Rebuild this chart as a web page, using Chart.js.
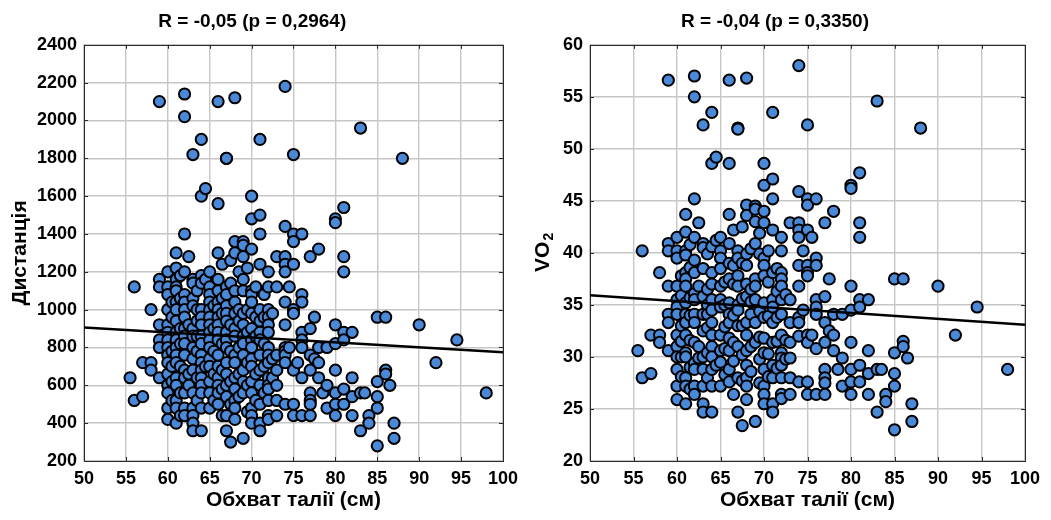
<!DOCTYPE html>
<html>
<head>
<meta charset="utf-8">
<script src="https://cdn.jsdelivr.net/npm/chart.js@4.4.1/dist/chart.umd.min.js"></script>
<style>
  body { margin: 0; background: #fff; }
  #wrap { position: relative; width: 1051px; height: 520px; }
  #wrap canvas { position: absolute; top: 0; }
</style>
</head>
<body>
<div id="wrap">
  <canvas id="distChart" width="525" height="520" style="left:0"></canvas>
  <canvas id="vo2Chart" width="526" height="520" style="left:525px"></canvas>
</div>
<script>
// waist circumference columns (cm); each y-list below holds the subjects at that waist value
const waist = [55.5, 56, 57, 58, 59, 60, 60.5, 61, 61.5, 62, 62.5, 63, 63.5, 64, 64.5, 65, 65.5, 66, 66.5, 67,
  67.5, 68, 68.5, 69, 69.5, 70, 70.5, 71, 71.5, 72, 72.5, 73, 74, 74.5, 75, 75.5, 76, 77, 77.5, 78,
  78.5, 79, 80, 81, 82, 83, 83.5, 84, 85, 86, 86.5, 87, 88, 90, 92, 94.5, 98];

const distance = [
  [640],
  [1120, 520],
  [720, 540],
  [1000, 720, 680],
  [2100, 1160, 1120, 920, 840, 800, 640],
  [1200, 1120, 1080, 1000, 920, 880, 840, 800, 760, 720, 660, 600, 560, 480, 420],
  [1040, 960, 780, 700, 620, 520],
  [1300, 1220, 1160, 1120, 1100, 1040, 1000, 940, 880, 840, 800, 760, 720, 640, 600, 520, 480, 400],
  [1180, 1060, 900, 820, 700, 560, 440],
  [2140, 2020, 1400, 1200, 1080, 1040, 1000, 960, 900, 860, 820, 760, 680, 640, 560, 480, 440],
  [1280, 920, 660, 600],
  [1820, 1160, 1140, 1060, 1020, 900, 860, 800, 740, 680, 560, 480, 440, 400, 360],
  [1100, 1000, 940, 860, 780, 640, 520],
  [1900, 1600, 1180, 1140, 1000, 960, 920, 860, 820, 760, 720, 680, 640, 600, 560, 480, 360],
  [1640, 1160, 700],
  [1200, 1120, 1080, 1040, 1000, 960, 920, 880, 840, 800, 740, 700, 620, 560, 480],
  [1020, 900, 780, 660, 520],
  [2100, 1560, 1300, 1160, 1100, 1040, 1000, 960, 920, 880, 840, 760, 700, 640, 600, 560, 500],
  [1240, 1060, 980, 820, 680, 580, 440],
  [1800, 1800, 1120, 1080, 1020, 980, 940, 880, 840, 800, 720, 660, 600, 540, 440, 360],
  [1260, 1140, 920, 780, 620, 500, 300],
  [2120, 1360, 1300, 1100, 1040, 980, 900, 860, 760, 720, 640, 580, 520, 480, 420],
  [1200, 1000, 940, 800, 660, 540],
  [1360, 1340, 1280, 1160, 1100, 980, 920, 860, 820, 760, 680, 620, 560, 320],
  [1220, 1000, 880, 720, 600, 460],
  [1600, 1480, 1320, 1100, 1080, 1040, 980, 900, 840, 800, 740, 700, 620, 560, 480, 440, 400],
  [1120, 960, 860, 660, 520],
  [1900, 1500, 1400, 1240, 1000, 940, 880, 840, 760, 680, 600, 500, 400, 360],
  [1080, 960, 820, 700, 560],
  [1200, 1120, 1000, 960, 920, 880, 800, 760, 720, 640, 600, 580, 520, 440, 420],
  [980, 740, 640],
  [1280, 1120, 760, 680, 600, 520, 440],
  [2180, 1440, 1280, 1240, 1200, 1040, 920, 800, 780, 760, 720, 500],
  [1120, 800],
  [1820, 1400, 1360, 1240, 1000, 980, 680, 500, 440],
  [720],
  [1400, 1080, 1040, 880, 840, 800, 640, 440],
  [1280, 900, 760, 680, 560, 520, 500, 440],
  [960, 740],
  [1320, 800, 720, 640],
  [560],
  [800, 600, 480],
  [1480, 1460, 920, 820, 680, 560, 500, 440],
  [1540, 1280, 1200, 880, 840, 580, 500],
  [880, 640, 540, 440],
  [1960, 560, 360],
  [560],
  [440, 400],
  [960, 620, 540, 480, 280],
  [960, 680, 660],
  [600],
  [400, 320],
  [1800],
  [920],
  [720],
  [840],
  [560]
];

const vo2 = [
  [30.6],
  [40.2, 28.0],
  [32.1, 28.4],
  [38.1, 32.1, 31.4],
  [56.6, 40.9, 40.2, 36.8, 34.1, 33.3, 30.6],
  [41.5, 40.2, 39.5, 36.8, 35.5, 34.8, 34.1, 32.1, 31.0, 30.0, 28.8, 27.2, 25.9],
  [37.8, 35.9, 33.0, 31.5, 30.0, 28.1],
  [43.7, 42.0, 40.2, 39.8, 38.1, 37.5, 36.8, 35.2, 34.1, 33.3, 32.1, 30.4, 30.0, 28.0, 27.2, 25.5],
  [40.8, 38.6, 35.7, 34.0, 31.6, 29.0, 26.9],
  [57.0, 55.0, 45.2, 41.5, 39.3, 38.1, 36.1, 35.5, 34.1, 33.3, 31.4, 29.4, 28.8, 27.2, 26.4],
  [42.9, 36.8, 31.0, 29.9],
  [52.3, 40.9, 40.5, 38.5, 35.8, 34.1, 32.5, 30.0, 28.8, 27.2, 25.5, 24.7],
  [39.9, 36.5, 35.0, 34.1, 32.8, 30.4, 28.0],
  [53.5, 48.6, 40.6, 38.1, 37.0, 35.5, 34.5, 33.3, 32.1, 31.0, 30.0, 28.8, 27.2, 24.7],
  [49.2, 41.2, 29.2],
  [41.5, 40.2, 39.5, 38.5, 36.8, 35.5, 34.8, 32.1, 30.6, 29.5, 27.2],
  [37.2, 35.0, 32.9, 30.8, 28.3],
  [56.6, 48.6, 43.7, 40.9, 39.0, 37.5, 35.2, 34.1, 33.3, 31.8, 30.6, 28.8, 27.6],
  [42.2, 38.8, 37.0, 34.0, 31.4, 29.6, 26.4],
  [52.0, 51.9, 40.2, 39.5, 37.8, 36.8, 35.0, 34.5, 33.0, 31.0, 28.0, 24.7],
  [42.5, 39.0, 35.6, 33.0, 30.2, 27.7, 23.4],
  [56.8, 44.6, 43.6, 39.9, 38.8, 37.0, 35.8, 33.3, 32.1, 30.6, 29.2, 28.0, 27.2, 25.9],
  [40.4, 36.5, 35.3, 34.1, 31.0, 28.6],
  [44.5, 44.2, 43.0, 40.9, 37.5, 36.8, 35.5, 33.3, 31.4, 23.8],
  [41.9, 39.9, 34.4, 31.9, 29.8, 27.5],
  [48.6, 46.5, 44.0, 42.9, 39.5, 38.8, 37.8, 35.2, 33.8, 31.8, 30.4, 28.8, 27.2, 26.4, 25.5],
  [40.2, 37.2, 33.9, 30.3, 28.1],
  [53.5, 47.1, 45.2, 42.2, 38.1, 35.5, 34.8, 33.3, 31.4, 29.2, 28.0, 25.5, 24.7],
  [38.5, 36.3, 33.8, 31.5, 28.9],
  [41.5, 40.2, 38.1, 37.5, 36.8, 35.5, 34.1, 32.1, 30.4, 29.9, 29.2, 28.0, 26.4, 26.0],
  [36.0, 31.6, 29.8],
  [42.9, 35.5, 33.3, 31.4, 29.9, 28.0, 26.4],
  [58.0, 45.9, 42.9, 42.2, 41.5, 38.8, 36.8, 33.8, 33.3, 32.0, 27.6],
  [40.2, 34.5],
  [52.3, 45.2, 44.6, 42.2, 38.8, 38.1, 37.8, 32.1, 31.4, 27.6, 26.4],
  [41.5, 32.1],
  [45.2, 39.5, 38.8, 35.5, 34.8, 34.1, 30.8, 26.4],
  [42.9, 35.8, 33.3, 31.4, 28.8, 28.0, 27.5, 26.4],
  [37.5, 32.5],
  [44.0, 34.1, 32.1, 30.6],
  [28.8],
  [34.1, 29.9, 27.2],
  [46.5, 46.2, 36.8, 34.5, 31.4, 28.8, 27.6, 26.4],
  [47.7, 42.9, 41.5, 35.5, 34.8, 29.2, 27.6],
  [35.5, 30.6, 28.4, 26.4],
  [54.6, 28.8, 24.7],
  [28.8],
  [26.4, 25.7],
  [37.5, 30.4, 28.4, 27.2, 23.0],
  [37.5, 31.5, 31.0],
  [29.9],
  [25.5, 23.8],
  [52.0],
  [36.8],
  [32.1],
  [34.8],
  [28.8]
];

// fitted regression lines, given at the ends of the waist axis
const fitWaist = [50, 100];
const fitDistance = [906, 775];
const fitVo2 = [35.94, 33.1];

const FONT = 'Liberation Sans';

function toPoints(cols) {
  const pts = [];
  waist.forEach((w, i) => cols[i].forEach(v => pts.push({ x: w, y: v })));
  return pts;
}

// plot frame with short inward ticks, drawn under the markers
const framePlugin = {
  id: 'frame',
  beforeDatasetsDraw(chart) {
    const { ctx, chartArea: a, scales } = chart;
    const t = 4;
    ctx.save();
    ctx.strokeStyle = '#2a2a2a';
    ctx.lineWidth = 1;
    ctx.beginPath();
    scales.x.ticks.forEach(tk => {
      const px = Math.round(scales.x.getPixelForValue(tk.value)) + 0.5;
      ctx.moveTo(px, a.bottom); ctx.lineTo(px, a.bottom - t);
      ctx.moveTo(px, a.top); ctx.lineTo(px, a.top + t);
    });
    scales.y.ticks.forEach(tk => {
      const py = Math.round(scales.y.getPixelForValue(tk.value)) + 0.5;
      ctx.moveTo(a.left, py); ctx.lineTo(a.left + t, py);
      ctx.moveTo(a.right, py); ctx.lineTo(a.right - t, py);
    });
    ctx.stroke();
    ctx.strokeRect(Math.round(a.left) + 0.5, Math.round(a.top) + 0.5,
      Math.round(a.right - a.left), Math.round(a.bottom - a.top));
    ctx.restore();
  }
};

// "VO2" axis title with a lowered small 2
const vo2TitlePlugin = {
  id: 'vo2Title',
  afterDraw(chart) {
    if (chart.canvas.id !== 'vo2Chart') return;
    const { ctx, chartArea: a } = chart;
    ctx.save();
    ctx.translate(18, (a.top + a.bottom) / 2);
    ctx.rotate(-Math.PI / 2);
    ctx.fillStyle = '#000';
    ctx.textBaseline = 'middle';
    ctx.font = `bold 21px "${FONT}"`;
    const w1 = ctx.measureText('VO').width;
    ctx.font = `bold 14px "${FONT}"`;
    const w2 = ctx.measureText('2').width;
    const x0 = -(w1 + w2) / 2;
    ctx.font = `bold 21px "${FONT}"`;
    ctx.fillText('VO', x0, 0);
    ctx.font = `bold 14px "${FONT}"`;
    ctx.fillText('2', x0 + w1 + 1, 6);
    ctx.restore();
  }
};

function makeChart(id, cfg) {
  const fitPoints = fitWaist.map((w, i) => ({ x: w, y: cfg.fit[i] }));
  return new Chart(document.getElementById(id), {
    type: 'scatter',
    data: {
      datasets: [
        {
          type: 'line',
          data: fitPoints,
          borderColor: '#000',
          borderWidth: 2.5,
          pointRadius: 0,
          order: 0
        },
        {
          data: toPoints(cfg.values),
          pointRadius: 5.6,
          pointBorderWidth: 2,
          pointBackgroundColor: '#4a89d8',
          pointBorderColor: '#000',
          order: 1
        }
      ]
    },
    options: {
      responsive: false,
      animation: false,
      events: [],
      layout: { padding: { left: 0, right: cfg.padRight, top: 0, bottom: 0 } },
      plugins: {
        legend: { display: false },
        tooltip: { enabled: false },
        title: {
          display: true,
          text: cfg.title,
          color: '#000',
          font: { family: FONT, size: 19, weight: 'bold' },
          padding: { top: 10, bottom: 12 }
        }
      },
      scales: {
        x: {
          type: 'linear',
          min: 50,
          max: 100,
          ticks: {
            stepSize: 5,
            color: '#000',
            padding: 7,
            font: { family: FONT, size: 18, weight: 'bold' }
          },
          grid: { color: '#c6c6c6', lineWidth: 1.4, drawTicks: false },
          border: { display: false },
          title: {
            display: true,
            text: 'Обхват талії (см)',
            color: '#000',
            font: { family: FONT, size: 21, weight: 'bold' },
            padding: { top: 0, bottom: 7 }
          },
          afterFit: s => { s.height = 59; }
        },
        y: {
          type: 'linear',
          min: cfg.yMin,
          max: cfg.yMax,
          ticks: {
            stepSize: cfg.yStep,
            color: '#000',
            padding: 7,
            font: { family: FONT, size: 18, weight: 'bold' },
            callback: v => String(v)
          },
          grid: { color: '#c6c6c6', lineWidth: 1.4, drawTicks: false },
          border: { display: false },
          title: {
            display: cfg.yTitle !== '',
            text: cfg.yTitle,
            color: '#000',
            font: { family: FONT, size: 21, weight: 'bold' },
            padding: { top: 8, bottom: 0 }
          },
          afterFit: s => { s.width = cfg.axisWidth; }
        }
      }
    },
    plugins: [framePlugin, vo2TitlePlugin]
  });
}

makeChart('distChart', {
  title: 'R = -0,05 (p = 0,2964)',
  values: distance,
  fit: fitDistance,
  yMin: 200, yMax: 2400, yStep: 200,
  yTitle: 'Дистанція',
  axisWidth: 84,
  padRight: 20.5
});

makeChart('vo2Chart', {
  title: 'R = -0,04 (p = 0,3350)',
  values: vo2,
  fit: fitVo2,
  yMin: 20, yMax: 60, yStep: 5,
  yTitle: '',
  axisWidth: 65,
  padRight: 26
});
</script>
</body>
</html>
